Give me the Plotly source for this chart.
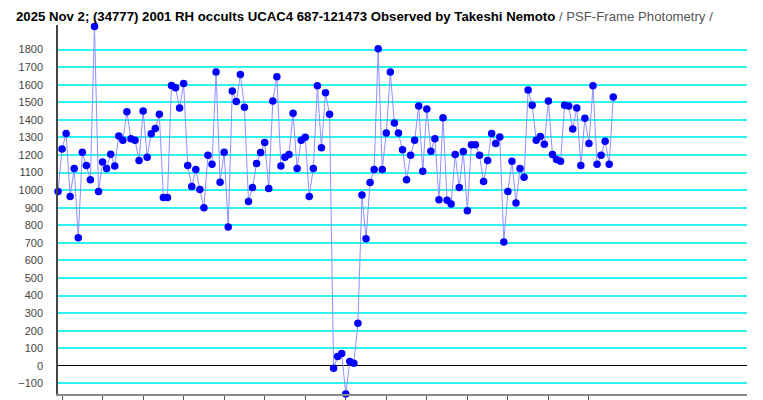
import plotly.graph_objects as go

# Relative brightness per frame (frame index = position in list)
flux = [
    993, 1235, 1323, 964, 1124, 729, 1216, 1141, 1060, 1931,
    993, 1160, 1124, 1205, 1137, 1308, 1284, 1446, 1293, 1284,
    1169, 1451, 1188, 1321, 1351, 1432, 959, 959, 1596, 1583,
    1468, 1607, 1141, 1021, 1118, 1004, 900, 1199, 1147, 1673,
    1045, 1216, 791, 1564, 1504, 1658, 1472, 936, 1015, 1152,
    1214, 1272, 1010, 1508, 1645, 1137, 1188, 1203, 1438, 1124,
    1284, 1301, 964, 1124, 1594, 1241, 1554, 1432, -13, 54,
    71, -160, 25, 15, 243, 972, 724, 1043, 1118, 1805,
    1118, 1325, 1673, 1382, 1325, 1230, 1060, 1199, 1284, 1479,
    1107, 1462, 1222, 1292, 945, 1412, 942, 921, 1203, 1015,
    1220, 883, 1259, 1259, 1199, 1049, 1169, 1323, 1265, 1303,
    705, 993, 1164, 927, 1124, 1073, 1570, 1483, 1284, 1306,
    1261, 1508, 1203, 1175, 1164, 1483, 1479, 1348, 1468, 1141,
    1410, 1265, 1594, 1147, 1199, 1278, 1147, 1530,
]
frames = list(range(len(flux)))

y_ticks = list(range(-100, 1900, 100))
x_ticks = list(range(1, 140, 10))

title_main = "2025 Nov 2; (34777) 2001 RH occults UCAC4 687-121473 Observed by Takeshi Nemoto"
title_sub = " / PSF-Frame Photometry /"

fig = go.Figure()
fig.add_trace(go.Scatter(
    x=frames, y=flux, mode="lines+markers",
    line=dict(color="#8F8FFF", width=1),
    marker=dict(color="#0000FF", size=7.5),
    cliponaxis=False, showlegend=False,
))

fig.update_layout(
    width=763, height=400,
    margin=dict(l=58, r=16, t=25, b=2),
    plot_bgcolor="white", paper_bgcolor="white",
    title=dict(
        text=f"<b>{title_main}</b><span style='color:#555555'>{title_sub}</span>",
        x=16 / 763, xanchor="left", xref="container",
        y=1 - 16 / 400, yanchor="middle", yref="container",
        font=dict(family="Liberation Sans", size=13.2, color="black"),
    ),
    xaxis=dict(
        range=[0, 170], showgrid=False, zeroline=False,
        showline=True, linecolor="#8A8A8A", linewidth=2,
        tickvals=x_ticks, ticks="outside", ticklen=4, tickcolor="#555555",
        showticklabels=False,
    ),
    yaxis=dict(
        range=[-160, 1940], tickvals=y_ticks,
        showgrid=True, gridcolor="#30F0F0", gridwidth=1.5,
        zeroline=True, zerolinecolor="black", zerolinewidth=1,
        showline=True, linecolor="#444444", linewidth=1.5,
        ticks="", ticklabelstandoff=11,
        tickfont=dict(family="Liberation Sans", size=11, color="#444444"),
    ),
)

fig.write_html("out.html", config={"displayModeBar": False},
               post_script="document.body.style.margin='0px';")
